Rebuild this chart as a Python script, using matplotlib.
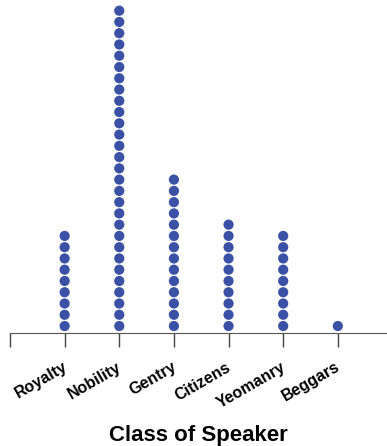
import matplotlib
matplotlib.use("Agg")
import matplotlib.pyplot as plt
import matplotlib.transforms as mtransforms
import numpy as np

plt.rcParams['font.family'] = ['Liberation Sans', 'DejaVu Sans']

classes = ['Royalty', 'Nobility', 'Gentry', 'Citizens', 'Yeomanry', 'Beggars']
counts = [9, 29, 14, 10, 9, 1]

fig = plt.figure(figsize=(3.87, 4.46), dpi=100)
ax = fig.add_axes([10 / 387, 113 / 446, 377 / 387, 333 / 446])

for i, n in enumerate(counts):
    xs = np.full(n, i + 1)
    ys = np.arange(1, n + 1)
    ax.scatter(xs, ys, s=54, color='#3b51a6', edgecolors='none', zorder=3, clip_on=False)

ax.set_xlim(0, 6.9)
ax.set_ylim(0.38, 29.95)
ax.set_xticks(range(0, len(classes) + 1))
ax.set_xticklabels([''] + classes, rotation=30, ha='right', fontsize=11.5, fontweight='bold')
ax.tick_params(axis='x', length=10, width=1, color='#444444', pad=9)
# nudge labels right so their ends sit just past the ticks
shift = mtransforms.ScaledTranslation(5 / 100, 0, fig.dpi_scale_trans)
for lab in ax.get_xticklabels():
    lab.set_transform(lab.get_transform() + shift)
ax.set_yticks([])
for s in ['top', 'right', 'left']:
    ax.spines[s].set_visible(False)
ax.spines['bottom'].set_color('#555555')
ax.set_xlabel('Class of Speaker', fontsize=16, fontweight='bold', labelpad=10)

fig.savefig('out.png', dpi=100)
